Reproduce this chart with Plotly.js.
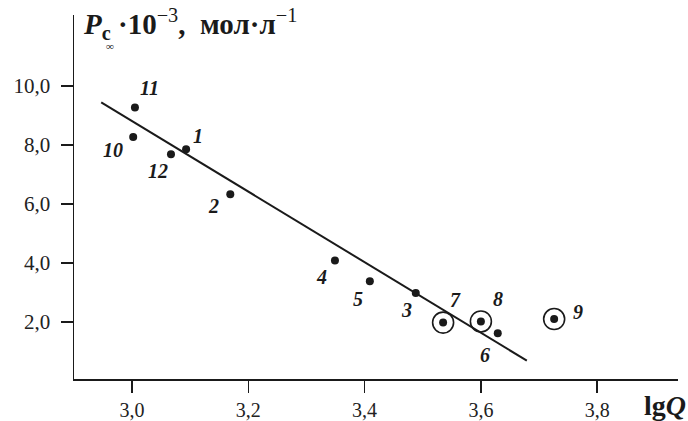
<!DOCTYPE html>
<html>
<head>
<meta charset="utf-8">
<script src="https://cdn.plot.ly/plotly-3.0.1.min.js"></script>
<style>html,body{margin:0;padding:0;background:#fff;}#chart{width:688px;height:421px;}</style>
</head>
<body>
<div id="chart"></div>
<script>
// Experimental points (lgQ, Pc∞·10^-3)
const pointLabels = ['1','2','3','4','5','6','7','8','9','10','11','12'];
const lgQ = [3.093, 3.169, 3.488, 3.349, 3.409, 3.629, 3.535, 3.600, 3.726, 3.002, 3.005, 3.067];
const pValues = [7.86, 6.33, 2.98, 4.09, 3.38, 1.62, 1.98, 2.02, 2.10, 8.27, 9.27, 7.69];
// Points marked with an open circle
const circledLabels = ['7','8','9'];
// Fitted straight line end points
const fitX = [2.947, 3.679];
const fitY = [9.45, 0.69];
// Axis ticks
const xTicks = [3.0, 3.2, 3.4, 3.6, 3.8];
const yTicks = [2.0, 4.0, 6.0, 8.0, 10.0];

// label offsets in pixels (style only)
const labelShift = {
  '1': [12, 13], '2': [-17, -12], '3': [-9, -17], '4': [-13, -17], '5': [-12, -18],
  '6': [-13, -22], '7': [12, 23], '8': [17, 22], '9': [24, 7], '10': [-20, -13],
  '11': [15, 20], '12': [-13, -17]
};

const cx = [], cy = [];
pointLabels.forEach((l, i) => { if (circledLabels.includes(l)) { cx.push(lgQ[i]); cy.push(pValues[i]); } });

const serif = 'Liberation Serif, Times New Roman, serif';
const ink = '#1a1a1a';

const traces = [
  {x: fitX, y: fitY, mode: 'lines', line: {color: ink, width: 2}, hoverinfo: 'skip'},
  {x: cx, y: cy, mode: 'markers', marker: {symbol: 'circle-open', size: 21, color: ink, line: {width: 1.6, color: ink}}, hoverinfo: 'skip'},
  {x: lgQ, y: pValues, mode: 'markers', marker: {symbol: 'circle', size: 8, color: ink}}
];

const annotations = pointLabels.map((l, i) => ({
  x: lgQ[i], y: pValues[i], xref: 'x', yref: 'y', showarrow: false,
  text: '<i><b>' + l + '</b></i>', xshift: labelShift[l][0], yshift: labelShift[l][1],
  font: {family: serif, size: 20, color: ink}
}));

annotations.push({
  xref: 'paper', yref: 'paper', x: 0.011, y: 1.035, xanchor: 'left', yanchor: 'top', showarrow: false,
  text: '<b><i>P</i></b><sub><b>c</b></sub> <b>·10</b><sup>−3</sup><b>,  мол·л</b><sup>−1</sup>',
  font: {family: serif, size: 29, color: ink}
});
annotations.push({
  xref: 'paper', yref: 'paper', x: 0.059, y: 0.916, xanchor: 'center', yanchor: 'middle', showarrow: false,
  text: '<b>∞</b>', font: {family: serif, size: 11, color: ink}
});
annotations.push({
  xref: 'paper', yref: 'paper', x: 1.0166, y: -0.074, xanchor: 'right', yanchor: 'middle', showarrow: false,
  text: '<b>lg<i>Q</i></b>', font: {family: serif, size: 28, color: ink}
});

const layout = {
  width: 688, height: 421,
  margin: {l: 74, r: 10, t: 15, b: 42},
  paper_bgcolor: '#fff', plot_bgcolor: '#fff',
  showlegend: false,
  separators: ', ',
  xaxis: {
    range: [2.9002, 3.939], tickvals: xTicks, tickformat: '.1f',
    showgrid: false, zeroline: false, showline: true, linecolor: ink, linewidth: 1.5,
    ticks: 'outside', ticklen: 12, tickwidth: 1.5, tickcolor: ink,
    tickfont: {family: serif, size: 20, color: '#222'}, ticklabelstandoff: 0
  },
  yaxis: {
    range: [0.068, 12.41], tickvals: yTicks, tickformat: '.1f',
    showgrid: false, zeroline: false, showline: true, linecolor: ink, linewidth: 1.5,
    ticks: 'outside', ticklen: 12, tickwidth: 1.5, tickcolor: ink,
    tickfont: {family: serif, size: 21, color: '#222'}, ticklabelstandoff: 6
  },
  annotations: annotations
};

Plotly.newPlot('chart', traces, layout, {displayModeBar: false, staticPlot: true});
</script>
</body>
</html>
